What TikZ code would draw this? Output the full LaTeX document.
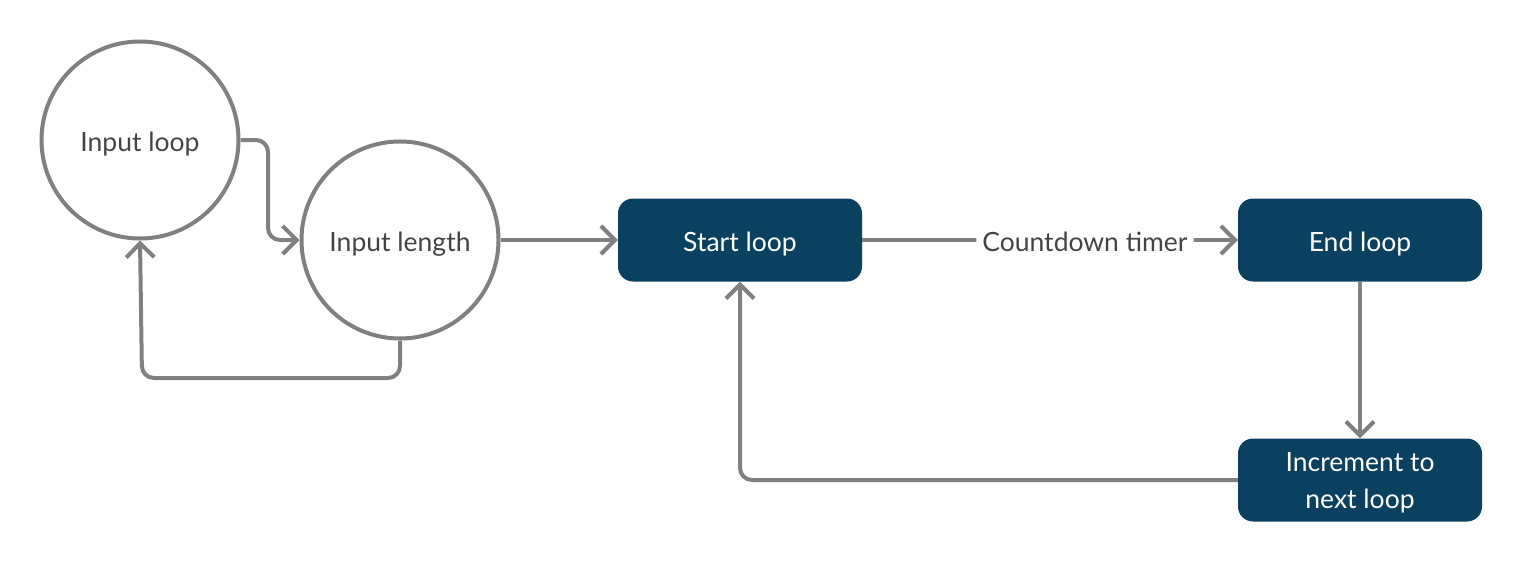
\documentclass[tikz,border=0pt]{standalone}
\usepackage{fontspec}
\setmainfont{Lato}
\usetikzlibrary{arrows.meta,positioning}
\definecolor{boxblue}{RGB}{10,65,96}
\definecolor{linegray}{RGB}{128,128,128}
\definecolor{textgray}{RGB}{68,68,68}
\begin{document}
\begin{tikzpicture}[x=1pt,y=-1pt,
  circnode/.style={circle,draw=linegray,line width=4pt,minimum size=197pt,inner sep=0pt,font=\fontsize{26.5}{37}\selectfont,text=textgray,text height=23pt,text depth=0pt},
  boxnode/.style={rectangle,rounded corners=15pt,fill=boxblue,minimum width=244pt,minimum height=83pt,inner sep=0pt,font=\fontsize{26.5}{37}\selectfont,text=white,align=center,text height=23pt,text depth=0pt},
  conn/.style={draw=linegray,line width=4pt,rounded corners=12pt,-{Straight Barb[length=14pt,width=28pt,line width=4pt]}},
  lbl/.style={fill=white,font=\fontsize{26.5}{37}\selectfont,text=textgray,inner sep=6pt,text height=23pt,text depth=0pt}
]
\useasboundingbox (0,0) rectangle (1520,560);
\node[circnode] (inloop) at (140,140) {Input loop};
\node[circnode] (inlen) at (400,240) {Input length};
\node[boxnode] (start) at (740,240) {Start loop};
\node[boxnode] (end) at (1360,240) {End loop};
\node[boxnode,text height=56.6pt,text depth=0pt] (inc) at (1360,480) {Increment to\\next loop};
\coordinate (c1) at (268,140);
\draw[conn] (inloop.east) -- (c1) |- (inlen.west);
\coordinate (c2) at (142,378);
\draw[conn] (inlen.south) |- (c2) -- (inloop.south);
\draw[conn] (inlen.east) -- (start.west);
\draw[conn] (start.east) -- node[lbl,pos=0.593] {Countdown timer} (end.west);
\draw[conn] (end.south) -- (inc.north);
\draw[conn] (inc.west) -| (start.south);
\end{tikzpicture}
\end{document}
